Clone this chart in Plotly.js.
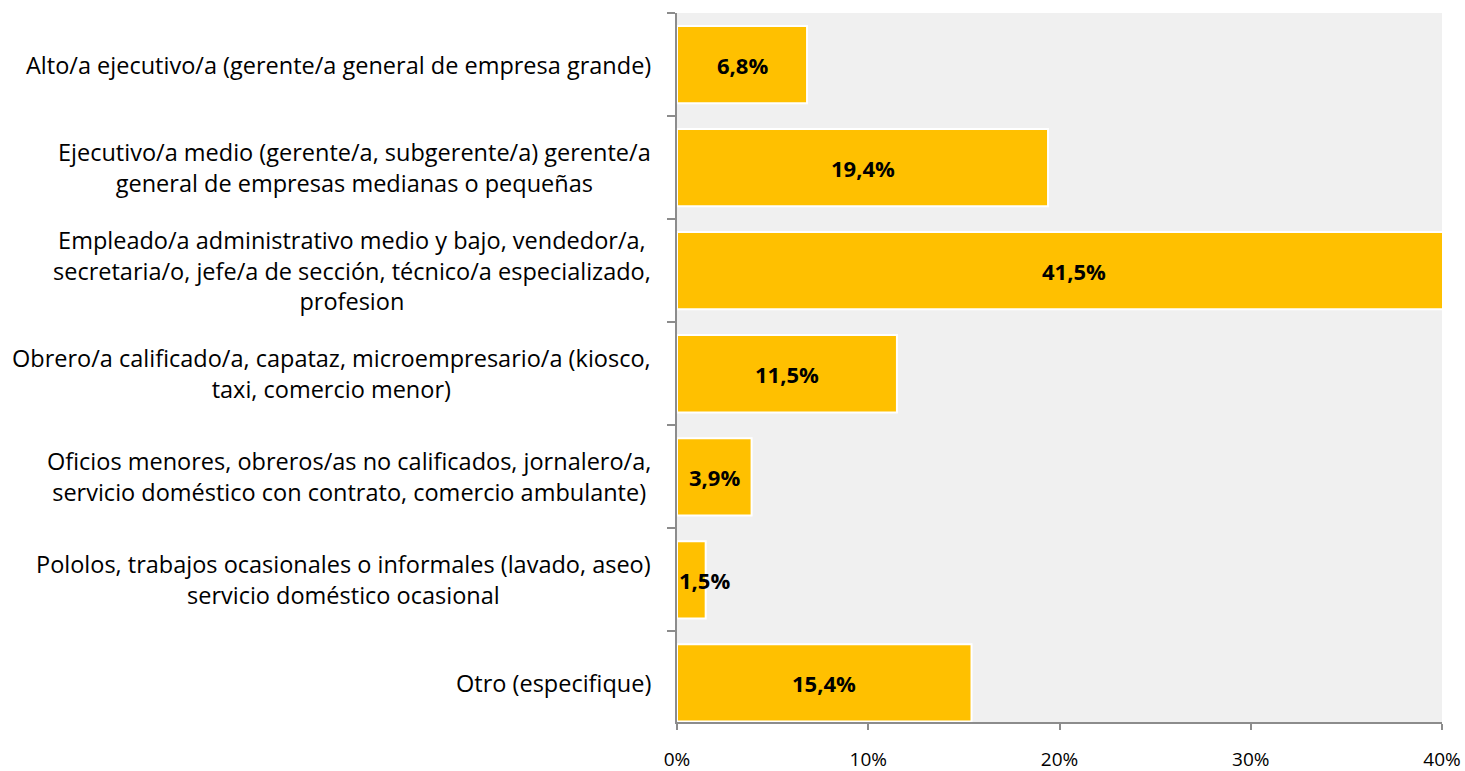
<!DOCTYPE html>
<html>
<head>
<meta charset="utf-8">
<script src="https://cdn.plot.ly/plotly-3.0.1.min.js"></script>
<style>html,body{margin:0;padding:0;background:#fff;}#chart{width:1465px;height:771px;}</style>
</head>
<body>
<div id="chart"></div>
<script>
const categories = [
  "Alto/a ejecutivo/a (gerente/a general de empresa grande)",
  "Ejecutivo/a medio (gerente/a, subgerente/a) gerente/a<br>general de empresas medianas o pequeñas",
  "Empleado/a administrativo medio y bajo, vendedor/a,<br>secretaria/o, jefe/a de sección, técnico/a especializado,<br>profesion",
  "Obrero/a calificado/a, capataz, microempresario/a (kiosco,<br>taxi, comercio menor)",
  "Oficios menores, obreros/as no calificados, jornalero/a,<br>servicio doméstico con contrato, comercio ambulante)",
  "Pololos, trabajos ocasionales o informales (lavado, aseo)<br>servicio doméstico ocasional",
  "Otro (especifique)"
];
const values = [0.068, 0.194, 0.415, 0.115, 0.039, 0.015, 0.154];
const tickValues = [0, 0.1, 0.2, 0.3, 0.4];
const tickLabels = ["0%", "10%", "20%", "30%", "40%"];

const FONT = '"Open Sans", Lato, sans-serif';

const trace = {
  type: 'bar',
  orientation: 'h',
  y: categories,
  x: values,
  marker: {color: '#FFC000', line: {color: '#FFFFFF', width: 2}},
  textposition: 'none',
  hoverinfo: 'none'
};

function fmt(v) { return (v * 100).toFixed(1).replace('.', ',') + '%'; }

const labelAnnotations = categories.map(c => ({
  x: 0, xref: 'paper', xanchor: 'right', xshift: -24,
  y: c, yref: 'y', yanchor: 'middle',
  text: c, showarrow: false, align: 'center',
  font: {family: FONT, size: 23.5, color: '#000'}
}));

const valueAnnotations = categories.map((c, i) => {
  const small = values[i] < 0.02;
  return {
    x: small ? 0 : values[i] / 2, xref: 'x',
    xanchor: small ? 'left' : 'center', xshift: small ? 0 : 0,
    y: c, yref: 'y', yanchor: 'middle',
    text: '<b>' + fmt(values[i]) + '</b>', showarrow: false,
    font: {family: FONT, size: 22, color: '#000'}
  };
});

const layout = {
  width: 1465, height: 771,
  margin: {l: 677, r: 23, t: 13, b: 49},
  paper_bgcolor: '#FFFFFF',
  plot_bgcolor: '#F0F0F0',
  separators: ',.',
  showlegend: false,
  bargap: 0.25,
  xaxis: {
    range: [0, 0.4],
    tickvals: tickValues, ticktext: tickLabels,
    showgrid: false, zeroline: false,
    showline: true, linecolor: '#8C8C8C', linewidth: 2,
    ticks: 'outside', ticklen: 6, tickcolor: '#8C8C8C', tickwidth: 2,
    tickfont: {family: FONT, size: 19, color: '#000'},
    ticklabelstandoff: 13,
    fixedrange: true
  },
  yaxis: {
    type: 'category',
    categoryorder: 'array', categoryarray: categories,
    range: [6.379, -0.5],
    showticklabels: false,
    showgrid: false, zeroline: false,
    showline: true, linecolor: '#8C8C8C', linewidth: 2,
    ticks: 'outside', ticklen: 8, tickcolor: '#8C8C8C', tickwidth: 2,
    tickson: 'boundaries',
    fixedrange: true
  },
  annotations: labelAnnotations.concat(valueAnnotations)
};

Plotly.newPlot('chart', [trace], layout, {displayModeBar: false, staticPlot: true});
</script>
</body>
</html>
